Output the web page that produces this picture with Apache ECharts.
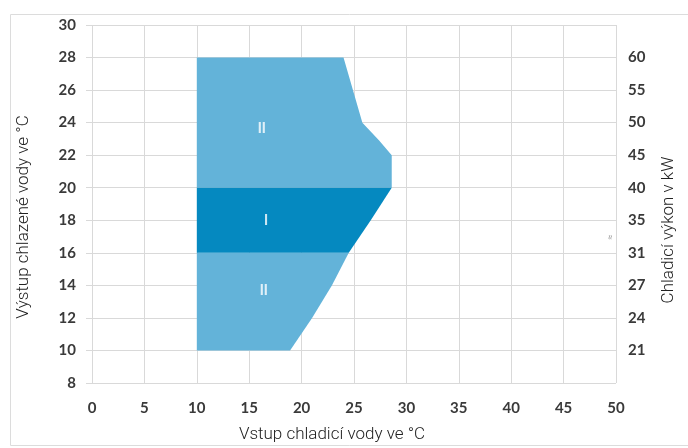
<!DOCTYPE html>
<html>
<head>
<meta charset="utf-8">
<script src="https://cdn.jsdelivr.net/npm/echarts@6/dist/echarts.min.js"></script>
<style>
  html, body { margin: 0; padding: 0; background: #fff; }
  #chart { width: 688px; height: 448px; }
</style>
</head>
<body>
<div id="chart"></div>
<script>
// oblasti provozu (x = vstup chladici vody, y = vystup chlazene vody)
var regionTop = [[10, 20], [10, 28], [24, 28], [25.8, 24], [27.4, 22.9], [28.6, 22], [28.6, 20]];
var regionMid = [[10, 16], [10, 20], [28.6, 20], [26.6, 18], [24.5, 16]];
var regionBottom = [[10, 10], [10, 16], [24.5, 16], [22.9, 14], [21, 12], [18.9, 10]];

var zoneNames = ['II', 'I', 'II'];
var zonePos = [[16.2, 23.6], [16.6, 17.9], [16.4, 13.6]];

// prava osa - chladici vykon v kW (od 8 do 30 po 2)
var rightLabels = ['', '21', '24', '27', '31', '35', '40', '45', '50', '55', '60', ''];

var colLight = '#63b3d9';
var colDark = '#0589c0';
var gridCol = '#d9d9d9';
var labelCol = '#3a3a3a';

function polySeries(points, color) {
    return {
        type: 'custom',
        silent: true,
        data: [0],
        renderItem: function (params, api) {
            return {
                type: 'polygon',
                shape: { points: points.map(function (p) { return api.coord(p); }) },
                style: { fill: color }
            };
        },
        z: 2
    };
}

var tickFont = { color: labelCol, fontFamily: 'Lato', fontWeight: 'bold', fontSize: 15 };

var myChart = echarts.init(document.getElementById('chart'));
myChart.setOption({
    animation: false,
    grid: { left: 92, right: 72, top: 25, bottom: 65 },
    graphic: [
        {
            type: 'rect', left: 8, top: 12, silent: true,
            shape: { width: 700, height: 431 },
            style: { fill: 'none', stroke: '#dcdcdc', lineWidth: 1 }
        },
        {
            type: 'text', x: 24, y: 217, rotation: Math.PI / 2,
            style: {
                text: 'Výstup chlazené vody ve °C', fill: '#222',
                font: '300 17px Roboto', align: 'center', verticalAlign: 'middle'
            }
        },
        {
            type: 'text', x: 669, y: 230, rotation: Math.PI / 2,
            style: {
                text: 'Chladicí výkon v kW', fill: '#222',
                font: '300 17px Roboto', align: 'center', verticalAlign: 'middle'
            }
        },
        {
            type: 'text', x: 332, y: 435,
            style: {
                text: 'Vstup chladicí vody ve °C', fill: '#222',
                font: '300 17px Roboto', align: 'center', verticalAlign: 'middle'
            }
        },
        {
            type: 'text', x: 611, y: 237, rotation: Math.PI / 2,
            style: {
                text: '≈', fill: '#999', font: '9px Roboto',
                align: 'center', verticalAlign: 'middle'
            }
        }
    ],
    xAxis: {
        type: 'value', min: 0, max: 50, interval: 5,
        axisLine: { show: false },
        axisTick: { show: false },
        splitLine: { lineStyle: { color: gridCol, width: 1 } },
        axisLabel: Object.assign({ margin: 18 }, tickFont)
    },
    yAxis: [{
        type: 'value', min: 8, max: 30, interval: 2,
        axisLine: { show: false },
        axisTick: { show: true, length: 6, lineStyle: { color: gridCol } },
        splitLine: { lineStyle: { color: gridCol, width: 1 } },
        axisLabel: Object.assign({ margin: 16 }, tickFont)
    }, {
        type: 'value', min: 8, max: 30, interval: 2, position: 'right',
        axisLine: { show: false },
        axisTick: { show: false },
        splitLine: { show: false },
        axisLabel: Object.assign({
            margin: 12,
            formatter: function (v) {
                return rightLabels[Math.round((v - 8) / 2)] || '';
            }
        }, tickFont)
    }],
    series: [
        polySeries(regionTop, colLight),
        polySeries(regionBottom, colLight),
        polySeries(regionMid, colDark),
        {
            type: 'scatter',
            silent: true,
            symbolSize: 0,
            z: 5,
            data: zonePos.map(function (p, i) { return { name: zoneNames[i], value: p }; }),
            label: {
                show: true, position: 'inside', formatter: '{b}',
                color: '#fff', fontFamily: 'Roboto', fontWeight: 'bold', fontSize: 14
            }
        }
    ]
});
</script>
</body>
</html>
